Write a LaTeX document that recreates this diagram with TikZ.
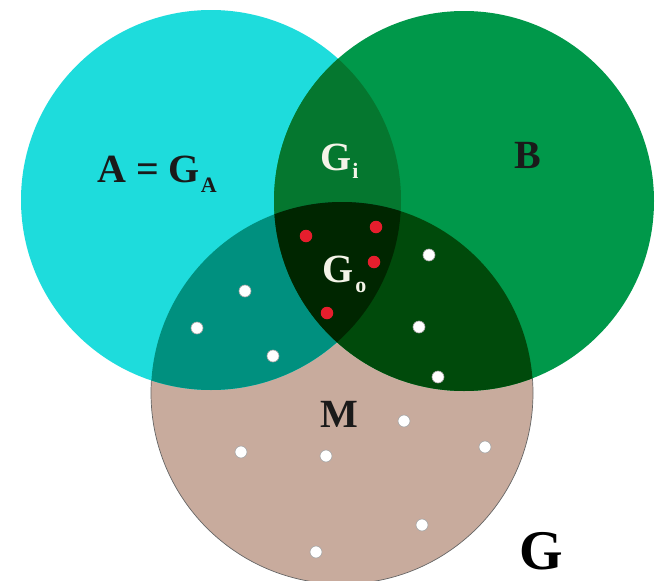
\documentclass[tikz,border=0pt]{standalone}
\usepackage{fontspec}
\setmainfont{Liberation Serif}
\usepackage{xcolor}

\definecolor{setA}{HTML}{1EDCDC}
\definecolor{setB}{HTML}{00984A}
\definecolor{setM}{HTML}{C8AB9D}
\definecolor{setAB}{HTML}{05772F}
\definecolor{setAM}{HTML}{00907F}
\definecolor{setBM}{HTML}{004A0B}
\definecolor{setABM}{HTML}{002600}
\definecolor{dotred}{HTML}{E61E2D}
\definecolor{txtdark}{HTML}{1A1A1A}
\definecolor{txtlight}{HTML}{F4F4E8}

\newcommand\lowsub[2][10]{\raisebox{-#1pt}{\fontsize{22}{22}\selectfont #2}}

\begin{document}
\begin{tikzpicture}[x=1pt,y=-1pt,
    wdot/.style={circle,fill=white,draw=gray!70,line width=0.6pt,inner sep=0pt,minimum size=12pt},
    rdot/.style={circle,fill=dotred,inner sep=0pt,minimum size=12.5pt},
    lbl/.style={anchor=base west,inner sep=0pt,font=\bfseries\fontsize{40}{40}\selectfont}]
    \useasboundingbox[fill=white] (0,0) rectangle (665,581);

    \coordinate (ca) at (211,200);
    \coordinate (cb) at (464,201);
    \coordinate (cm) at (342,393);

    % the three sets
    \filldraw[fill=setM,draw=gray!80!black,line width=0.7pt] (cm) circle[radius=191pt];
    \fill[setA] (ca) circle[radius=190pt];
    \fill[setB] (cb) circle[radius=190pt];

    % overlaps
    \begin{scope}
        \clip (ca) circle[radius=190pt];
        \fill[setAB] (cb) circle[radius=190pt];
        \fill[setAM] (cm) circle[radius=191pt];
    \end{scope}
    \begin{scope}
        \clip (cb) circle[radius=190pt];
        \fill[setBM] (cm) circle[radius=191pt];
        \clip (ca) circle[radius=190pt];
        \fill[setABM] (cm) circle[radius=191pt];
    \end{scope}

    % points
    \foreach \p [count=\k] in {(306,236),(376,227),(374,262),(327,313)}
        \node[rdot] (r\k) at \p {};
    \foreach \p [count=\k] in {(245,291),(197,328),(273,356),(429,255),(419,327),(438,377),
                               (404,421),(485,447),(241,452),(326,456),(422,525),(316,552)}
        \node[wdot] (w\k) at \p {};

    % labels
    \node[lbl,text=txtdark] (labA) at (97,182) {A = G\kern1pt\lowsub{A}};
    \node[lbl,text=txtlight] (labGi) at (320,170) {G\kern1pt\lowsub[8]{i}};
    \node[lbl,text=txtdark] (labB) at (514,168) {B};
    \node[lbl,text=txtlight] (labGo) at (322,282) {G\kern2pt\lowsub[10]{o}};
    \node[lbl,text=txtdark] (labM) at (320,427) {M};
    \node[lbl,font=\bfseries\fontsize{56}{56}\selectfont] (labG) at (519,569) {G};
\end{tikzpicture}
\end{document}
